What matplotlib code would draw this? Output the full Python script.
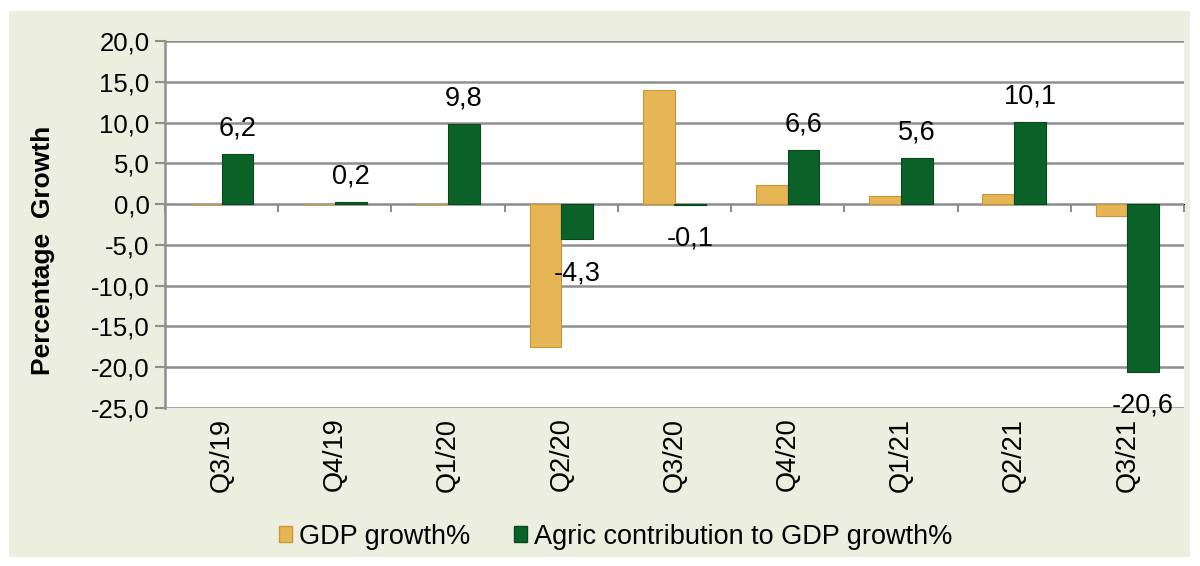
import matplotlib.pyplot as plt
from matplotlib.patches import Rectangle, Patch
from matplotlib.ticker import FuncFormatter, MultipleLocator
import numpy as np

plt.rcParams['font.family'] = ['Liberation Sans', 'DejaVu Sans']

# data
quarters = ["Q3/19", "Q4/19", "Q1/20", "Q2/20", "Q3/20", "Q4/20", "Q1/21", "Q2/21", "Q3/21"]
gdp_growth = [0.0, 0.0, 0.0, -17.5, 14.0, 2.4, 1.0, 1.3, -1.5]
agric_contrib = [6.2, 0.2, 9.8, -4.3, -0.1, 6.6, 5.6, 10.1, -20.6]

gold = '#E5B556'
gold_edge = '#C9973A'
green = '#0B6229'
green_edge = '#07481D'

def comma(v, pos=None):
    return f"{v:.1f}".replace('.', ',')

fig = plt.figure(figsize=(12, 5.66), dpi=100, facecolor='white')
# light panel behind the chart
fig.patches.append(Rectangle((9 / 1200, 9 / 566), 1181 / 1200, 546 / 566,
                             transform=fig.transFigure, facecolor='#ECEFDF',
                             edgecolor='none', zorder=-10))

ax = fig.add_axes([165 / 1200, 158 / 566, 1019 / 1200, 367 / 566])
ax.set_facecolor('white')

x = np.arange(len(quarters))
w = 0.28
b1 = ax.bar(x - w / 2, gdp_growth, w, color=gold, edgecolor=gold_edge, linewidth=0.8, zorder=3)
b2 = ax.bar(x + w / 2, agric_contrib, w, color=green, edgecolor=green_edge, linewidth=0.8, zorder=3)

# data labels for agric series
for xi, v in zip(x, agric_contrib):
    off = 9 if v >= 0 else -15
    va = 'bottom' if v >= 0 else 'top'
    ax.annotate(comma(v), (xi + w / 2, v), xytext=(0, off), textcoords='offset points',
                ha='center', va=va, fontsize=19.5, zorder=4)

ax.set_xlim(-0.5, len(quarters) - 0.5)
ax.set_ylim(-25, 20)
ax.yaxis.set_major_locator(MultipleLocator(5))
ax.yaxis.set_major_formatter(FuncFormatter(comma))
ax.grid(axis='y', color='#8E8E8E', linewidth=1.8, zorder=0)
ax.set_axisbelow(True)

for s in ['top', 'right', 'bottom']:
    ax.spines[s].set_visible(False)
ax.spines['left'].set_color('#8E8E8E')
ax.spines['left'].set_linewidth(1.8)

ax.tick_params(axis='y', length=7, width=1.5, color='#8E8E8E', labelsize=18.5, pad=4)
ax.set_xticks(x)
ax.set_xticklabels(quarters, rotation=90, fontsize=19.5)
ax.tick_params(axis='x', length=0, pad=7)

# category axis crossing at zero, ticks between categories
sec = ax.secondary_xaxis(25 / 45)
sec.set_xticks(np.arange(len(quarters) + 1) - 0.5)
sec.set_xticklabels([])
sec.tick_params(axis='x', direction='out', length=6, width=1.5, color='#8E8E8E')
sec.spines['bottom'].set_color('#8E8E8E')
sec.spines['bottom'].set_linewidth(1.8)
sec.xaxis.set_ticks_position('bottom')

ax.set_ylabel('Percentage  Growth', fontsize=19, fontweight='bold')
ax.yaxis.set_label_coords(-0.108, 0.43)

handles = [Patch(facecolor=gold, edgecolor=gold_edge), Patch(facecolor=green, edgecolor=green_edge)]
fig.legend(handles, ['GDP growth%', 'Agric contribution to GDP growth%'],
           loc='center', bbox_to_anchor=(0.513, 0.052), ncol=2, frameon=False,
           fontsize=19.5, handlelength=0.5, handleheight=0.5, handletextpad=0.25,
           columnspacing=1.6)

fig.savefig('out.png', dpi=100, facecolor='white')
